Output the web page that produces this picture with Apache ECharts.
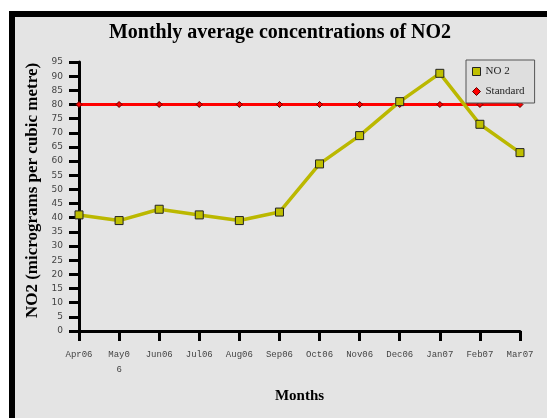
<!DOCTYPE html>
<html><head><meta charset="utf-8">
<script src="https://cdn.jsdelivr.net/npm/echarts@6/dist/echarts.min.js"></script>
<style>html,body{margin:0;padding:0;background:#fff}#c{width:547px;height:418px}</style>
</head><body><div id="c"></div>
<script>
const months = ["Apr06","May06","Jun06","Jul06","Aug06","Sep06","Oct06","Nov06","Dec06","Jan07","Feb07","Mar07"];
const tickLabels = ["Apr06","May0\n6","Jun06","Jul06","Aug06","Sep06","Oct06","Nov06","Dec06","Jan07","Feb07","Mar07"];
const no2 = [41,39,43,41,39,42,59,69,81,91,73,63];
const standard = [80,80,80,80,80,80,80,80,80,80,80,80];

const chart = echarts.init(document.getElementById('c'), null, {renderer:'canvas'});
const serif = 'Liberation Serif';
chart.setOption({
  backgroundColor:'#e4e4e4',
  animation:false,
  graphic:[
    {type:'rect', shape:{x:0,y:0,width:9,height:418}, style:{fill:'#fff'}},
    {type:'rect', shape:{x:0,y:0,width:547,height:11}, style:{fill:'#fff'}},
    {type:'rect', shape:{x:9,y:11,width:6,height:407}, style:{fill:'#000'}},
    {type:'rect', shape:{x:9,y:11,width:538,height:6}, style:{fill:'#000'}}
  ],
  title:{
    text:'Monthly average concentrations of NO2',
    left:275, top:18, textAlign:'center',
    textStyle:{fontFamily:serif, fontWeight:'bold', fontSize:20, color:'#000'}
  },
  legend:{
    orient:'vertical', left:466, top:60,
    backgroundColor:'#dedede', borderColor:'#555', borderWidth:1, borderRadius:0,
    padding:[6,10,6,6], itemGap:9, itemWidth:8, itemHeight:8,
    textStyle:{fontFamily:serif, fontSize:11, color:'#222'},
    data:[
      {name:'NO 2', icon:'rect', itemStyle:{color:'#bfbf00', borderColor:'#222', borderWidth:1}},
      {name:'Standard', icon:'diamond', itemStyle:{color:'#ff0000', borderColor:'#600', borderWidth:1}}
    ]
  },
  grid:{left:79, right:27, top:62, bottom:87, containLabel:false},
  xAxis:{
    type:'category', data:months, boundaryGap:false,
    name:'Months', nameLocation:'middle', nameGap:58,
    nameTextStyle:{fontFamily:serif, fontWeight:'bold', fontSize:15, color:'#000'},
    axisLine:{lineStyle:{color:'#000', width:3}},
    axisTick:{show:true, length:10, lineStyle:{color:'#000', width:3}, alignWithLabel:true},
    axisLabel:{
      interval:0, margin:16, fontFamily:'Liberation Mono', fontSize:9, color:'#444', lineHeight:15,
      formatter:(v, i)=>tickLabels[i]
    },
    splitLine:{show:false}
  },
  yAxis:{
    type:'value', min:0, max:95, interval:5,
    name:'NO2 (micrograms per cubic metre)', nameLocation:'middle', nameGap:36,
    nameTextStyle:{fontFamily:serif, fontWeight:'bold', fontSize:17, color:'#000', padding:[0,0,0,12]},
    axisLine:{show:true, lineStyle:{color:'#000', width:3}},
    axisTick:{show:true, length:10, lineStyle:{color:'#000', width:3}},
    axisLabel:{margin:16, fontFamily:'DejaVu Sans', fontSize:9, color:'#444'},
    splitLine:{show:false}
  },
  series:[
    {
      name:'Standard', type:'line', data:standard,
      symbol:'diamond', symbolSize:6, showAllSymbol:true,
      lineStyle:{color:'#ff0000', width:3},
      itemStyle:{color:'#ff0000', borderColor:'#600', borderWidth:1},
      z:2
    },
    {
      name:'NO 2', type:'line', data:no2,
      symbol:'rect', symbolSize:8, showAllSymbol:true,
      lineStyle:{color:'#bbb800', width:3.5},
      itemStyle:{color:'#bfbf00', borderColor:'#222', borderWidth:1},
      z:3
    }
  ]
});
</script></body></html>
